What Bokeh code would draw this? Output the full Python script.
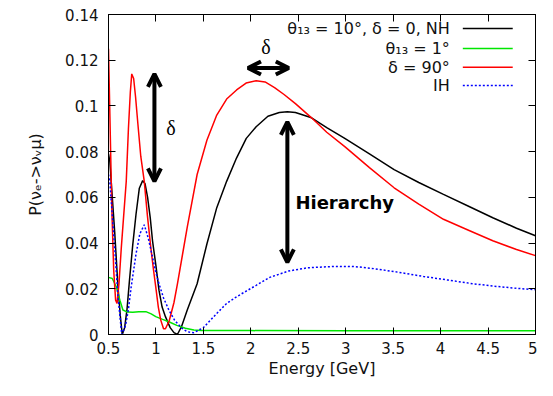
from bokeh.plotting import figure
from bokeh.models import Range1d, FixedTicker, LinearAxis, Label, Arrow, OpenHead
from bokeh.embed import file_html
from bokeh.resources import INLINE

# ---------------- data ----------------
E_nh = [0.50, 0.514, 0.54, 0.565, 0.60, 0.625, 0.645, 0.67, 0.695, 0.721, 0.755, 0.79, 0.825,
        0.86, 0.885, 0.912, 0.94, 0.964, 1.0, 1.032, 1.065, 1.10, 1.15, 1.19, 1.226, 1.27, 1.33,
        1.434, 1.537, 1.641, 1.745, 1.849, 1.952, 2.056, 2.18, 2.30, 2.385, 2.47, 2.64, 2.80,
        2.99, 3.25, 3.51, 3.77, 4.03, 4.30, 4.55, 4.80, 5.0]
P_nh = [0.079, 0.0757, 0.06, 0.045, 0.0208, 0.008, 0.0, 0.003, 0.011, 0.0237, 0.039, 0.0526, 0.064,
        0.0673, 0.066, 0.060, 0.051, 0.041, 0.030, 0.0194, 0.012, 0.0078, 0.003, 0.0008, 0.0, 0.0035, 0.0107,
        0.0222, 0.0396, 0.0555, 0.067, 0.0772, 0.0858, 0.0909, 0.0955, 0.0971, 0.0974, 0.0971, 0.0948, 0.0905,
        0.0858, 0.079, 0.0721, 0.0665, 0.0613, 0.056, 0.0511, 0.0465, 0.0432]

E_t1 = [0.50, 0.54, 0.583, 0.62, 0.652, 0.70, 0.756, 0.82, 0.894, 0.95, 0.998, 1.07, 1.136,
        1.22, 1.31, 1.40, 1.48, 2.0, 3.0, 4.0, 5.0]
P_t1 = [0.025, 0.0245, 0.0208, 0.015, 0.0107, 0.0098, 0.0097, 0.0099, 0.010, 0.009, 0.0078, 0.0066, 0.0056,
        0.004, 0.0027, 0.002, 0.0017, 0.0017, 0.0016, 0.0016, 0.0016]

E_d90 = [0.50, 0.515, 0.535, 0.555, 0.575, 0.59, 0.61, 0.635, 0.66, 0.687, 0.71, 0.73, 0.745, 0.765,
         0.785, 0.81, 0.84, 0.877, 0.91, 0.946, 0.975, 0.998, 1.025, 1.05, 1.08, 1.10, 1.14, 1.19,
         1.226, 1.28, 1.33, 1.434, 1.537, 1.641, 1.745, 1.85, 1.95, 2.056, 2.15, 2.25, 2.35, 2.47,
         2.64, 2.80, 2.99, 3.25, 3.51, 3.77, 4.03, 4.30, 4.55, 4.80, 5.0]
P_d90 = [0.125, 0.095, 0.055, 0.028, 0.015, 0.0136, 0.022, 0.038, 0.052, 0.067, 0.09, 0.106, 0.114, 0.112,
         0.104, 0.092, 0.078, 0.067, 0.052, 0.038, 0.028, 0.0208, 0.012, 0.0064, 0.0025, 0.0025, 0.006, 0.014,
         0.022, 0.035, 0.047, 0.070, 0.085, 0.096, 0.103, 0.107, 0.110, 0.111, 0.1105, 0.108, 0.105, 0.101,
         0.0948, 0.0885, 0.0822, 0.073, 0.0642, 0.057, 0.0504, 0.0455, 0.041, 0.0372, 0.0345]

E_ih = [0.50, 0.514, 0.54, 0.565, 0.60, 0.64, 0.68, 0.71, 0.739, 0.79, 0.83, 0.877, 0.92, 0.964,
        1.0, 1.032, 1.08, 1.136, 1.20, 1.275, 1.33, 1.40, 1.50, 1.641, 1.745, 1.849, 1.952, 2.056,
        2.20, 2.40, 2.60, 2.886, 3.10, 3.30, 3.56, 3.82, 4.08, 4.34, 4.60, 4.80, 5.0]
P_ih = [0.070, 0.067, 0.052, 0.038, 0.0165, 0.0, 0.004, 0.011, 0.0208, 0.0352, 0.044, 0.048, 0.042, 0.0338,
        0.027, 0.0222, 0.016, 0.0107, 0.006, 0.0027, 0.0012, 0.0008, 0.003, 0.0092, 0.0136, 0.0165, 0.019, 0.0215,
        0.025, 0.0278, 0.0292, 0.0298, 0.0297, 0.0288, 0.0272, 0.0254, 0.0238, 0.0222, 0.021, 0.0202, 0.0196]

series_labels = ["θ₁₃ = 10°, δ = 0, NH", "θ₁₃ = 1°", "δ = 90°", "IH"]

x_ticks = [0.5, 1, 1.5, 2, 2.5, 3, 3.5, 4, 4.5, 5]
x_tick_labels = ["0.5", "1", "1.5", "2", "2.5", "3", "3.5", "4", "4.5", "5"]
y_ticks = [0, 0.02, 0.04, 0.06, 0.08, 0.1, 0.12, 0.14]
y_tick_labels = ["0", "0.02", "0.04", "0.06", "0.08", "0.1", "0.12", "0.14"]

x_title = "Energy [GeV]"
y_title = "P(νₑ->νᵥμ)"

# annotation positions (data units)
DELTA_ARROW = dict(x=0.984, y0=0.067, y1=0.114)
DELTA_LABEL1 = (1.157, 0.0902)
HORIZ_ARROW = dict(x0=1.97, x1=2.40, y=0.1166)
DELTA_LABEL2 = (2.16, 0.1259)
HIER_ARROW = dict(x=2.385, y0=0.0316, y1=0.093)
HIER_LABEL = (2.47, 0.0576)
LEG_TEXT_X = 4.097
LEG_LINE_X = (4.234, 4.76)
LEG_ROWS_Y = [0.1339, 0.1251, 0.1169, 0.1089]

# ---------------- figure ----------------
p = figure(width=537, height=380, output_backend="svg", toolbar_location=None,
           x_range=Range1d(0.5, 5), y_range=Range1d(0, 0.14),
           min_border_left=108, min_border_right=2, min_border_top=14, min_border_bottom=45)
p.xgrid.visible = False
p.ygrid.visible = False
p.outline_line_color = "black"
p.outline_line_alpha = 1.0
p.background_fill_color = "white"
p.border_fill_color = "white"

TICK_FONT = "DejaVu Sans"

def style_axis(ax, ticks, labels, show_labels=True):
    ax.ticker = FixedTicker(ticks=ticks)
    ax.major_label_overrides = {t: l for t, l in zip(ticks, labels)}
    ax.major_tick_in = 7
    ax.major_tick_out = 0
    ax.minor_tick_line_color = None
    ax.axis_line_color = "black"
    ax.major_tick_line_color = "black"
    ax.major_tick_line_width = 1
    ax.major_label_text_font = TICK_FONT
    ax.major_label_text_color = "#111111"
    if show_labels:
        ax.major_label_text_font_size = "15px"
    else:
        ax.major_label_text_font_size = "1px"
        ax.major_label_text_alpha = 0.0
        ax.major_label_standoff = 0

style_axis(p.xaxis[0], x_ticks, x_tick_labels)
style_axis(p.yaxis[0], y_ticks, y_tick_labels)
p.xaxis[0].major_label_standoff = 7
p.yaxis[0].major_label_standoff = 10

p.xaxis[0].axis_label = x_title
p.yaxis[0].axis_label = y_title
for ax in (p.xaxis[0], p.yaxis[0]):
    ax.axis_label_text_font = TICK_FONT
    ax.axis_label_text_font_size = "16px"
    ax.axis_label_text_font_style = "normal"
    ax.axis_label_text_color = "#111111"
p.xaxis[0].axis_label_standoff = 2
p.yaxis[0].axis_label_standoff = 17

top_ax = LinearAxis()
right_ax = LinearAxis()
style_axis(top_ax, x_ticks, [" "] * len(x_ticks), show_labels=False)
style_axis(right_ax, y_ticks, [" "] * len(y_ticks), show_labels=False)
p.add_layout(top_ax, "above")
p.add_layout(right_ax, "right")

# ---------------- curves ----------------
colors = ["#000000", "#00e600", "#ff0000", "#0000ff"]
p.line(E_nh, P_nh, line_color=colors[0], line_width=1.5)
p.line(E_t1, P_t1, line_color=colors[1], line_width=1.5)
p.line(E_d90, P_d90, line_color=colors[2], line_width=1.5)
p.line(E_ih, P_ih, line_color=colors[3], line_width=1.5, line_dash="2 2")

# ---------------- legend (label left, sample right) ----------------
for lab, col, yy, dash in zip(series_labels, colors, LEG_ROWS_Y, ["solid", "solid", "solid", "2 2"]):
    p.add_layout(Label(x=LEG_TEXT_X, y=yy, text=lab, text_align="right", text_baseline="middle",
                       text_font=TICK_FONT, text_font_size="16px", text_color="#111111"))
    p.add_layout(Arrow(x_start=LEG_LINE_X[0], y_start=yy, x_end=LEG_LINE_X[1], y_end=yy,
                       start=None, end=None, line_color=col, line_width=1.5, line_dash=dash))

# ---------------- annotations ----------------
def head():
    return OpenHead(size=13, line_width=4, line_color="black")

p.add_layout(Arrow(x_start=DELTA_ARROW["x"], y_start=DELTA_ARROW["y0"], x_end=DELTA_ARROW["x"],
                   y_end=DELTA_ARROW["y1"], start=head(), end=head(), line_width=4, line_color="black"))
p.add_layout(Arrow(x_start=HORIZ_ARROW["x0"], y_start=HORIZ_ARROW["y"], x_end=HORIZ_ARROW["x1"],
                   y_end=HORIZ_ARROW["y"], start=head(), end=head(), line_width=4, line_color="black"))
p.add_layout(Arrow(x_start=HIER_ARROW["x"], y_start=HIER_ARROW["y0"], x_end=HIER_ARROW["x"],
                   y_end=HIER_ARROW["y1"], start=head(), end=head(), line_width=4, line_color="black"))

p.add_layout(Label(x=DELTA_LABEL1[0], y=DELTA_LABEL1[1], text="δ", text_align="center",
                   text_baseline="middle", text_font="Liberation Serif", text_font_size="20px",
                   text_color="black"))
p.add_layout(Label(x=DELTA_LABEL2[0], y=DELTA_LABEL2[1], text="δ", text_align="center",
                   text_baseline="middle", text_font="Liberation Serif", text_font_size="20px",
                   text_color="black"))
p.add_layout(Label(x=HIER_LABEL[0], y=HIER_LABEL[1], text="Hierarchy", text_align="left",
                   text_baseline="middle", text_font="DejaVu Sans", text_font_size="18px",
                   text_font_style="bold", text_color="black"))

open("out.html", "w").write(file_html(p, INLINE))
